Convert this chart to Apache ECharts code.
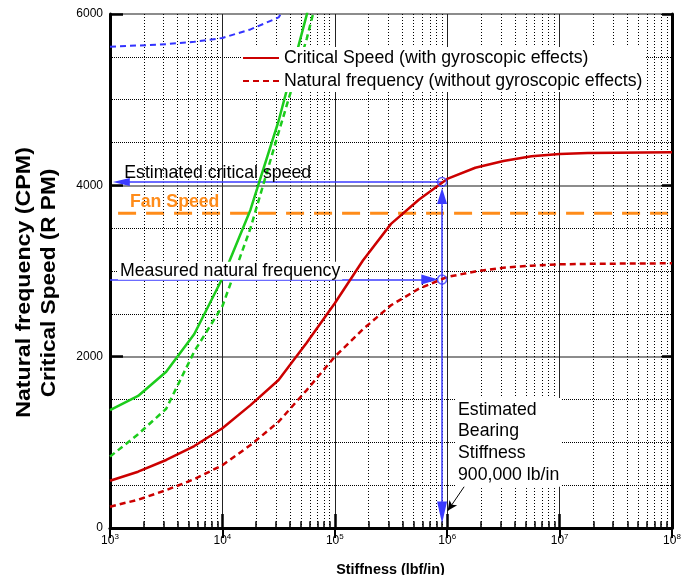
<!DOCTYPE html>
<html><head><meta charset="utf-8">
<script src="https://cdn.jsdelivr.net/npm/echarts@6/dist/echarts.min.js"></script>
<style>html,body{margin:0;padding:0;background:#fff}#c{width:689px;height:575px}</style>
</head><body><div id="c"></div>
<script>
// ---- data ----
const stiffness = [1000, 1778, 3162, 5623, 10000, 17783, 31623, 56234, 100000, 177828, 316228, 562341,
  1000000, 1778279, 3162278, 5623413, 10000000, 17782794, 31622777, 56234133, 100000000];
const criticalSpeed = [552, 657, 794, 957, 1164, 1434, 1728, 2163, 2623, 3122, 3550, 3835,
  4075, 4205, 4283, 4340, 4366, 4376, 4381, 4384, 4386];
const naturalFreq = [249, 330, 442, 570, 733, 968, 1240, 1610, 2000, 2320, 2600, 2795,
  2930, 2995, 3038, 3062, 3078, 3083, 3086, 3088, 3090];
const greenSolid = [1377, 1541, 1824, 2264, 2915, 3716, 4751, 5990, 7600];
const greenDashed = [833, 1095, 1392, 2061, 2589, 3500, 4617, 5710, 7000];
const blueDashed = [5618, 5632, 5648, 5675, 5720, 5820, 5960, 6500];
const fanSpeed = 3675;
const fanStart = 1180;
const estimatedCritical = 4040;
const measuredNatural = 2900;
const bearingStiffness = 900000;
const yTicks = [0, 2000, 4000, 6000];
const xDecades = [1e3, 1e4, 1e5, 1e6, 1e7, 1e8];
const legendNames = ['Critical Speed (with gyroscopic effects)', 'Natural frequency (without gyroscopic effects)'];

// ---- chart ----
const F = 'Liberation Sans, Arial, Helvetica, sans-serif';
const RED = '#cc0000', GREEN = '#1ccc1c', BLUE = '#3333ff', ABLUE = '#3b3bff', ORANGE = '#ff8c1a';
const pairs = ys => ys.map((y, i) => (y == null ? null : [stiffness[i], y])).filter(p => p);
const minorX = [];
for (let d = 0; d < xDecades.length - 1; d++) for (let k = 2; k <= 9; k++) minorX.push(k * xDecades[d]);

const chart = echarts.init(document.getElementById('c'));
const xBase = {type: 'log', logBase: 10, min: xDecades[0], max: xDecades[xDecades.length - 1], splitNumber: 5};
chart.setOption({
  animation: false,
  backgroundColor: '#fff',
  grid: {left: 110, right: 17, top: 14, bottom: 47},
  legend: {
    data: legendNames, orient: 'vertical', left: 242, top: 47, z: 10,
    backgroundColor: '#fff', padding: [1, 3, 1, 0], itemWidth: 36, itemHeight: 14, itemGap: 3,
    itemStyle: {opacity: 0},
    textStyle: {fontFamily: F, fontSize: 17.7, color: '#000', lineHeight: 20}, selectedMode: false
  },
  xAxis: [
    Object.assign({}, xBase, {
      position: 'bottom',
      axisLine: {lineStyle: {color: '#000', width: 3}},
      axisTick: {inside: true, length: 14, lineStyle: {color: '#000', width: 2.5}},
      axisLabel: {
        margin: 5, color: '#000',
        formatter: v => '{b|10}{s|' + Math.round(Math.log10(v)) + '}',
        rich: {b: {fontFamily: F, fontSize: 12, color: '#000', verticalAlign: 'bottom'},
               s: {fontFamily: F, fontSize: 8, color: '#000', verticalAlign: 'bottom', padding: [0, 0, 6, 0]}}
      },
      splitLine: {show: true, lineStyle: {color: '#222', width: 1}}
    }),
    Object.assign({}, xBase, {
      position: 'top',
      axisLine: {lineStyle: {color: '#000', width: 2.5}},
      axisTick: {inside: true, length: 10, lineStyle: {color: '#000', width: 2}},
      axisLabel: {show: false}, splitLine: {show: false}
    })
  ],
  yAxis: [
    {
      type: 'value', min: yTicks[0], max: yTicks[yTicks.length - 1], interval: 2000,
      axisLine: {show: true, lineStyle: {color: '#000', width: 3}},
      axisTick: {show: true, inside: true, length: 13, lineStyle: {color: '#000', width: 2.5}},
      axisLabel: {fontFamily: F, fontSize: 12, color: '#000', margin: 7, formatter: v => String(v)},
      splitLine: {show: true, lineStyle: {color: '#666', width: 1.5}},
      minorTick: {show: false, splitNumber: 4},
      minorSplitLine: {show: true, lineStyle: {color: '#000', width: 1, type: [1, 1]}}
    },
    {
      type: 'value', position: 'right', min: yTicks[0], max: yTicks[yTicks.length - 1], interval: 2000,
      axisLine: {show: true, lineStyle: {color: '#000', width: 3}},
      axisTick: {show: true, inside: true, length: 10, lineStyle: {color: '#000', width: 2.5}},
      axisLabel: {show: false}, splitLine: {show: false}
    }
  ],
  series: [
    { // minor vertical grid + bottom minor ticks
      type: 'line', data: [[xDecades[0], -1000]], symbol: 'none', lineStyle: {opacity: 0}, z: 1, silent: true,
      markLine: {
        silent: true, symbol: 'none', label: {show: false}, animation: false,
        lineStyle: {color: '#000', width: 1, type: [1, 2]},
        data: minorX.map(v => ({xAxis: v})).concat(
          minorX.map(v => [{coord: [v, 0], lineStyle: {type: 'solid', width: 1.5}}, {coord: [v, 80]}]))
      }
    },
    {name: legendNames[0], type: 'line', data: pairs(criticalSpeed), symbol: 'none', z: 5,
     lineStyle: {color: RED, width: 2.5}, itemStyle: {color: RED}},
    {name: legendNames[1], type: 'line', data: pairs(naturalFreq), symbol: 'none', z: 5,
     lineStyle: {color: RED, width: 2.5, type: [6, 4]}, itemStyle: {color: RED}},
    {name: 'green1', type: 'line', data: pairs(greenSolid), symbol: 'none', z: 5,
     lineStyle: {color: GREEN, width: 2.5}},
    {name: 'green2', type: 'line', data: pairs(greenDashed), symbol: 'none', z: 5,
     lineStyle: {color: GREEN, width: 2.5, type: [6, 4]}},
    {name: 'blue', type: 'line', data: pairs(blueDashed), symbol: 'none', z: 5,
     lineStyle: {color: BLUE, width: 2, type: [6, 4]}},
    {name: 'fan', type: 'line', data: [[fanStart, fanSpeed], [xDecades[5], fanSpeed]], symbol: 'none', z: 4,
     lineStyle: {color: ORANGE, width: 3, type: [18, 10]}},
    { // annotation arrows
      type: 'scatter', z: 6, silent: true,
      data: [[bearingStiffness, estimatedCritical], [bearingStiffness, measuredNatural]],
      symbol: 'circle', symbolSize: 9,
      itemStyle: {color: 'rgba(0,0,0,0)', borderColor: ABLUE, borderWidth: 1.5},
      markLine: {
        silent: true, symbol: 'none', label: {show: false}, animation: false,
        lineStyle: {color: ABLUE, width: 1.5, type: 'solid'},
        data: [
          [{coord: [1260, estimatedCritical], symbol: 'triangle', symbolSize: [8, 17]},
           {coord: [bearingStiffness, estimatedCritical], symbol: 'none'}],
          [{coord: [xDecades[0], measuredNatural], symbol: 'none'},
           {coord: [700000, measuredNatural], symbol: 'triangle', symbolSize: [10, 17]}],
          [{coord: [bearingStiffness, 3875], symbol: 'triangle', symbolSize: [10, 16]},
           {coord: [bearingStiffness, 181], symbol: 'triangle', symbolSize: [10, 22]}],
          [{coord: [1490000, 525], symbol: 'none', lineStyle: {color: '#000', width: 1}},
           {coord: [1010000, 200], symbol: 'arrow', symbolSize: [7, 10]}]
        ]
      }
    }
  ],
  graphic: {elements: [
    {type: 'text', x: 24.5, y: 282.5, rotation: Math.PI / 2, scaleX: 1.16,
     style: {text: 'Natural frequency (CPM)', fontFamily: F, fontSize: 20, fontWeight: 'bold', fill: '#000', align: 'center', verticalAlign: 'middle'}},
    {type: 'text', x: 49.5, y: 283, rotation: Math.PI / 2, scaleX: 1.13,
     style: {text: 'Critical Speed (R PM)', fontFamily: F, fontSize: 20, fontWeight: 'bold', fill: '#000', align: 'center', verticalAlign: 'middle'}},
    {type: 'text', x: 390.5, y: 570,
     style: {text: 'Stiffness (lbf/in)', fontFamily: F, fontSize: 14.4, fontWeight: 'bold', fill: '#000', align: 'center', verticalAlign: 'middle'}},
    {type: 'text', x: 124.3, y: 173.3, z: 50,
     style: {text: 'Estimated critical speed', fontFamily: F, fontSize: 17.7, fill: '#000', align: 'left', verticalAlign: 'middle'}},
    {type: 'text', x: 174.7, y: 202.5, z: 50,
     style: {text: 'Fan Speed', fontFamily: F, fontSize: 17.7, fontWeight: 'bold', fill: ORANGE, align: 'center', verticalAlign: 'middle'}},
    {type: 'text', x: 118, y: 270.7, z: 50,
     style: {text: 'Measured natural frequency', fontFamily: F, fontSize: 17.7, fill: '#000', align: 'left', verticalAlign: 'middle',
             backgroundColor: '#fff', padding: [0, 2, 0, 2]}},
    {type: 'text', x: 456, y: 398, z: 50,
     style: {text: 'Estimated\nBearing\nStiffness\n900,000 lb/in', fontFamily: F, fontSize: 17.7, lineHeight: 21.7, fill: '#000',
             align: 'left', verticalAlign: 'top', backgroundColor: '#fff', padding: [1, 2, 1, 2]}}
  ]}
});
</script>
</body></html>
